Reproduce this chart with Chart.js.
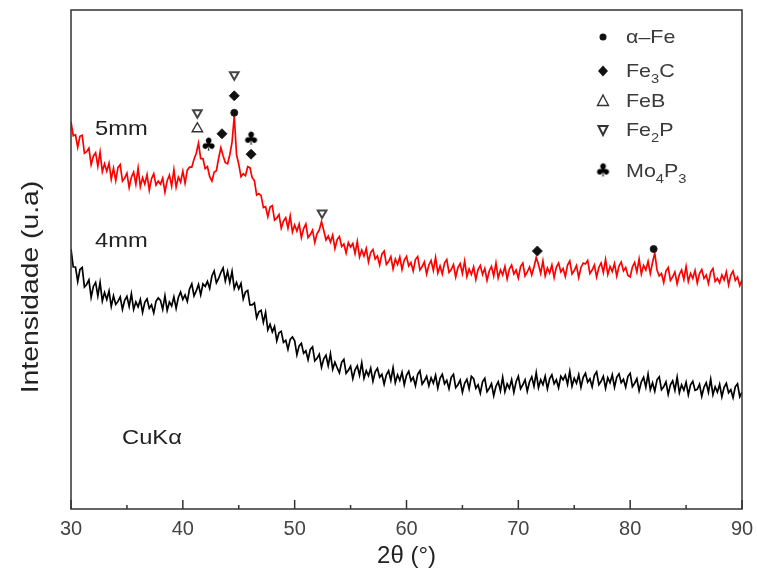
<!DOCTYPE html>
<html>
<head>
<meta charset="utf-8">
<title>DRX 4mm / 5mm</title>
<script src="https://cdn.jsdelivr.net/npm/chart.js"></script>
<style>
  body { margin: 0; background: #fff; }
  #wrap { width: 757px; height: 583px; }
</style>
</head>
<body>
<div id="wrap"><canvas id="xrdChart" width="757" height="583"></canvas></div>
<script>
// scan 30-90 deg, step 0.2 (intensity in arbitrary units)
const START = 30;
const STEP = 0.2;

const red5mm = [
  77.6, 74.8, 75.0, 72.5, 74.7,  74.9, 71.3, 71.6, 72.3, 69.0,
  70.7, 71.4, 68.7, 71.5, 67.6,  69.2, 67.7, 69.3, 66.1, 68.3,
  65.8, 68.4, 69.0, 65.7, 66.3,  67.3, 64.4, 66.5, 67.5, 65.1,
  68.3, 64.6, 66.4, 65.1, 67.0,  63.9, 66.2, 67.2, 64.9, 65.7,
  65.1, 66.3, 63.5, 65.8, 66.9,  64.7, 68.0, 64.5, 66.5, 65.5,
  67.7, 65.3, 67.9, 68.5, 68.5,  70.1, 71.3, 73.3, 70.2, 70.2,
  68.2, 68.6, 66.6, 65.7, 67.5,  67.8, 70.3, 72.4, 70.8, 69.4,
  69.2, 71.0, 73.5, 78.8, 71.0,  69.1, 66.6, 67.2, 66.8, 68.6,
  68.4, 66.4, 65.8, 62.9, 63.2,  62.8, 60.4, 60.6, 58.6, 60.5,
  60.8, 57.9, 58.3, 59.0, 56.3,  57.7, 58.4, 56.3, 58.7, 55.5,
  56.9, 55.7, 57.1, 54.4, 56.2,  57.1, 54.4, 55.0, 55.9, 53.4,
  55.2, 55.9, 57.6, 55.8, 53.9,  54.7, 53.5, 54.9, 52.2, 54.0,
  54.6, 52.6, 53.1, 51.3, 53.4,  52.5, 53.2, 51.2, 53.6, 50.5,
  51.9, 50.7, 52.2, 49.5, 51.4,  52.0, 50.1, 50.7, 48.9, 51.1,
  51.7, 49.0, 49.6, 50.6, 48.1,  50.1, 49.0, 50.5, 48.0, 49.9,
  50.6, 48.7, 49.4, 47.7, 50.0,  50.6, 47.9, 48.6, 49.5, 47.1,
  48.9, 49.8, 47.8, 50.4, 47.3,  48.7, 47.1, 49.3, 50.0, 47.4,
  48.0, 49.0, 46.5, 48.4, 49.2,  47.2, 49.7, 46.6, 48.1, 47.0,
  48.5, 46.0, 48.0, 48.8, 47.0,  48.2, 45.8, 47.7, 48.6, 46.7,
  49.3, 46.3, 47.9, 46.9, 48.6,  46.1, 48.1, 48.9, 47.1, 47.9,
  46.3, 48.6, 49.3, 46.7, 47.5,  48.5, 46.9, 48.5, 50.4, 49.0,
  47.2, 49.7, 46.7, 48.3, 47.3,  48.9, 46.4, 48.5, 49.3, 47.5,
  48.2, 46.6, 48.9, 49.7, 47.1,  47.8, 48.8, 46.4, 48.4, 49.3,
  49.1, 49.8, 47.2, 47.9, 48.9,  46.5, 48.4, 49.3, 47.4, 50.0,
  47.0, 48.6, 47.6, 49.2, 46.7,  48.7, 49.5, 47.7, 48.4, 46.8,
  46.5, 48.5, 49.4, 47.5, 50.1,  47.1, 48.8, 47.9, 49.6, 47.2,
  49.4, 51.3, 47.9, 46.7, 47.2,  45.4, 47.7, 48.4, 45.8, 46.5,
  47.5, 45.1, 47.0, 47.9, 46.0,  48.6, 45.6, 47.2, 46.2, 47.8,
  45.3, 47.2, 48.0, 46.2, 46.9,  45.2, 47.5, 48.2, 45.6, 46.2,
  45.3, 46.9, 45.9, 47.5, 44.9,  46.9, 47.7, 45.8, 46.5, 44.8,
  45.9
];

const black4mm = [
  52.1, 48.5, 48.5, 45.6, 48.0,  48.4, 44.5, 45.0, 45.9, 42.4,
  44.6, 45.4, 42.7, 45.4, 41.7,  43.4, 42.0, 43.7, 40.6, 42.7,
  41.0, 41.6, 42.5, 40.0, 41.8,  42.6, 40.6, 43.1, 40.0, 41.5,
  40.5, 42.0, 39.4, 41.4, 42.1,  40.2, 40.9, 39.3, 41.6, 42.3,
  41.8, 40.0, 42.7, 39.8, 41.5,  40.7, 42.5, 40.2, 42.4, 43.5,
  42.0, 42.9, 41.6, 44.1, 45.1,  42.7, 43.7, 45.0, 42.9, 45.1,
  44.6, 45.6, 44.2, 46.7, 47.7,  45.3, 46.2, 47.4, 48.3, 45.7,
  47.6, 45.4, 47.6, 44.2, 45.4,  44.1, 45.2, 42.1, 43.5, 43.8,
  40.9, 40.9, 41.3, 38.3, 39.5,  39.8, 37.4, 39.4, 35.9, 37.0,
  35.5, 36.6, 33.7, 35.3, 35.6,  33.4, 33.8, 32.0, 34.0, 34.5,
  33.7, 30.9, 32.7, 33.2, 31.2,  31.7, 29.9, 32.0, 32.5, 29.7,
  30.2, 31.0, 28.4, 30.1, 30.8,  28.7, 31.1, 28.0, 29.4, 28.3,
  27.3, 29.4, 30.0, 27.2, 27.8,  28.6, 26.1, 27.9, 28.7, 26.8,
  29.3, 26.2, 27.7, 26.7, 28.2,  25.6, 27.5, 28.2, 26.4, 27.0,
  25.0, 26.9, 27.7, 25.8, 28.3,  25.3, 26.9, 25.8, 27.4, 24.9,
  26.8, 27.6, 25.7, 26.4, 24.7,  27.0, 27.7, 25.0, 25.7, 26.6,
  24.7, 26.3, 25.2, 26.8, 24.2,  26.2, 27.0, 25.1, 25.8, 24.1,
  26.4, 27.0, 24.3, 24.9, 25.8,  23.4, 25.2, 26.0, 24.1, 26.6,
  26.1, 24.2, 24.9, 23.2, 25.5,  26.2, 23.5, 24.2, 25.1, 22.7,
  24.6, 25.5, 23.7, 26.4, 23.5,  25.1, 24.2, 25.9, 23.4, 25.5,
  26.6, 24.1, 24.9, 25.9, 23.6,  25.5, 26.5, 24.6, 27.3, 24.3,
  25.9, 24.9, 26.6, 24.1, 26.1,  26.9, 25.1, 25.9, 24.3, 26.6,
  25.9, 26.8, 25.0, 27.6, 24.6,  26.2, 25.2, 26.9, 24.4, 26.4,
  27.2, 25.4, 26.1, 24.5, 26.8,  27.5, 24.9, 25.6, 26.6, 24.2,
  26.3, 25.3, 26.9, 24.4, 26.4,  27.1, 25.3, 26.0, 24.4, 26.6,
  27.2, 24.5, 25.2, 26.1, 23.7,  25.5, 26.4, 24.4, 27.0, 23.9,
  25.3, 23.6, 25.9, 26.5, 23.9,  24.5, 25.5, 23.0, 24.9, 25.7,
  23.8, 26.4, 23.3, 24.9, 23.8,  25.4, 22.9, 24.9, 25.6, 23.8,
  24.0, 25.0, 22.6, 24.4, 25.3,  23.4, 26.0, 22.9, 24.5, 23.4,
  25.0, 22.5, 24.4, 25.2, 23.3,  23.9, 22.3, 24.5, 25.1, 22.5,
  23.4
];

// phase markers: peak angle and marker height
const alphaFeAngles = [44.6, 82.1];
const alphaFeHeights = [79.4, 52.1];
const fe3cAngles = [43.5, 44.6, 46.1, 71.7];
const fe3cHeights = [75.2, 82.8, 71.1, 51.7];
const febAngles = [41.3];
const febHeights = [76.2];
const fe2pAngles = [41.3, 44.6, 52.45];
const fe2pHeights = [79.4, 87.0, 59.3];
const mo4p3Angles = [42.3, 46.1];
const mo4p3Heights = [72.9, 74.1];

const xTicks = [30, 40, 50, 60, 70, 80, 90];

const angles = red5mm.map((_, i) => +(START + i * STEP).toFixed(2));
const toPoints = (xs, ys) => xs.map((x, i) => ({ x, y: ys[i] }));

const FONT = '"Liberation Sans", Arial, sans-serif';
const WIDE = 1.13; // the original lettering is a bit wider than Arial

function clubImage(size) {
  const c = document.createElement('canvas');
  c.width = size;
  c.height = size;
  const g = c.getContext('2d');
  g.fillStyle = '#000';
  g.font = 'bold ' + (size - 1) + 'px "DejaVu Sans"';
  g.textAlign = 'center';
  g.textBaseline = 'middle';
  g.fillText('\u2663', size / 2, size / 2 + 1);
  return c;
}
const club = clubImage(19);

function wideText(ctx, txt, x, y, font, sx) {
  ctx.save();
  ctx.translate(x, y);
  ctx.scale(sx, 1);
  ctx.font = font;
  ctx.fillText(txt, 0, 0);
  const w = ctx.measureText(txt).width * sx;
  ctx.restore();
  return w;
}

// box, inward ticks, text labels and the phase key
const decorations = {
  id: 'decorations',
  afterDraw(chart) {
    const { ctx, chartArea: a, scales } = chart;
    const x = scales.x;
    ctx.save();
    ctx.strokeStyle = '#333';
    ctx.lineWidth = 1.5;
    ctx.strokeRect(a.left, a.top, a.right - a.left, a.bottom - a.top);
    for (let v = 30; v <= 90; v += 5) {
      const px = x.getPixelForValue(v);
      const len = v % 10 === 0 ? 9 : 4;
      ctx.beginPath();
      ctx.moveTo(px, a.bottom);
      ctx.lineTo(px, a.bottom - len);
      ctx.stroke();
    }

    ctx.fillStyle = '#222';
    ctx.textBaseline = 'middle';
    ctx.textAlign = 'left';
    wideText(ctx, '5mm', 95, 129, '21px ' + FONT, WIDE);
    wideText(ctx, '4mm', 95, 241, '21px ' + FONT, WIDE);
    wideText(ctx, 'CuK\u03B1', 122, 438, '21px ' + FONT, WIDE);

    ctx.save();
    ctx.translate(31, 287);
    ctx.rotate(-Math.PI / 2);
    ctx.scale(1.18, 1);
    ctx.textAlign = 'center';
    ctx.font = '24px ' + FONT;
    ctx.fillText('Intensidade (u.a)', 0, 0);
    ctx.restore();

    // key
    const keyX = 603;
    const textX = 626;
    const rows = [
      { y: 37, sym: 'circle', parts: [['\u03B1\u2013Fe', 0]] },
      { y: 71, sym: 'diamond', parts: [['Fe', 0], ['3', 1], ['C', 0]] },
      { y: 101, sym: 'up', parts: [['FeB', 0]] },
      { y: 130, sym: 'down', parts: [['Fe', 0], ['2', 1], ['P', 0]] },
      { y: 171, sym: 'club', parts: [['Mo', 0], ['4', 1], ['P', 0], ['3', 1]] }
    ];
    rows.forEach(r => {
      ctx.fillStyle = '#111';
      ctx.strokeStyle = '#333';
      ctx.lineWidth = 1.4;
      if (r.sym === 'circle') {
        ctx.beginPath();
        ctx.arc(keyX, r.y, 3.5, 0, Math.PI * 2);
        ctx.fill();
      } else if (r.sym === 'diamond') {
        ctx.beginPath();
        ctx.moveTo(keyX, r.y - 5.5);
        ctx.lineTo(keyX + 5, r.y);
        ctx.lineTo(keyX, r.y + 5.5);
        ctx.lineTo(keyX - 5, r.y);
        ctx.closePath();
        ctx.fill();
      } else if (r.sym === 'up') {
        ctx.beginPath();
        ctx.moveTo(keyX, r.y - 6);
        ctx.lineTo(keyX + 5.5, r.y + 4.5);
        ctx.lineTo(keyX - 5.5, r.y + 4.5);
        ctx.closePath();
        ctx.stroke();
      } else if (r.sym === 'down') {
        ctx.lineWidth = 2;
        ctx.beginPath();
        ctx.moveTo(keyX - 4.5, r.y - 4);
        ctx.lineTo(keyX + 4.5, r.y - 4);
        ctx.lineTo(keyX, r.y + 5);
        ctx.closePath();
        ctx.stroke();
      } else {
        ctx.drawImage(club, keyX - 9.5, r.y - 9.5);
      }
      ctx.fillStyle = '#3a3a3a';
      let tx = textX;
      r.parts.forEach(([txt, sub]) => {
        tx += wideText(ctx, txt, tx, r.y + 1 + (sub ? 7 : 0), (sub ? '13px ' : '19px ') + FONT, WIDE);
      });
    });
    ctx.restore();
  }
};

const markerBase = {
  type: 'scatter',
  order: 0,
  showLine: false,
  pointBorderColor: '#222',
  pointBackgroundColor: '#111',
  pointBorderWidth: 1
};

new Chart(document.querySelector('#xrdChart'), {
  type: 'line',
  data: {
    datasets: [
      { ...markerBase, label: '\u03B1-Fe', data: toPoints(alphaFeAngles, alphaFeHeights), pointStyle: 'circle', pointRadius: 3.5 },
      { ...markerBase, label: 'Fe3C', data: toPoints(fe3cAngles, fe3cHeights), pointStyle: 'rectRot', pointRadius: 5 },
      { ...markerBase, label: 'FeB', data: toPoints(febAngles, febHeights), pointStyle: 'triangle', pointRadius: 6,
        pointBackgroundColor: 'rgba(255,255,255,0)', pointBorderColor: '#333', pointBorderWidth: 1.4 },
      { ...markerBase, label: 'Fe2P', data: toPoints(fe2pAngles, fe2pHeights), pointStyle: 'triangle', pointRotation: 180, pointRadius: 5,
        pointBackgroundColor: 'rgba(255,255,255,0)', pointBorderColor: '#444', pointBorderWidth: 2 },
      { ...markerBase, label: 'Mo4P3', data: toPoints(mo4p3Angles, mo4p3Heights), pointStyle: club },
      {
        label: '5mm',
        order: 1,
        data: toPoints(angles, red5mm),
        borderColor: '#f00',
        borderWidth: 1.7,
        pointRadius: 0,
        tension: 0
      },
      {
        label: '4mm',
        order: 2,
        data: toPoints(angles, black4mm),
        borderColor: '#000',
        borderWidth: 1.7,
        pointRadius: 0,
        tension: 0
      }
    ]
  },
  options: {
    responsive: false,
    animation: false,
    devicePixelRatio: 1,
    layout: { padding: { left: 71, top: 10, right: 15, bottom: 12 } },
    plugins: { legend: { display: false }, tooltip: { enabled: false } },
    scales: {
      x: {
        type: 'linear',
        min: 30,
        max: 90,
        afterBuildTicks: scale => { scale.ticks = xTicks.map(v => ({ value: v })); },
        afterFit: scale => {
          scale.height = 62;
          scale.paddingLeft = 0;
          scale.paddingRight = 0;
        },
        grid: { display: false, drawTicks: false },
        border: { display: false },
        ticks: { padding: 8, color: '#444', font: { size: 20, family: FONT }, maxRotation: 0 },
        title: {
          display: true,
          text: '2\u03B8 (\u00B0)',
          color: '#222',
          font: { size: 24, family: FONT },
          padding: { top: 2, bottom: 0 }
        }
      },
      y: { display: false, min: 0, max: 100 }
    }
  },
  plugins: [decorations]
});
</script>
</body>
</html>
